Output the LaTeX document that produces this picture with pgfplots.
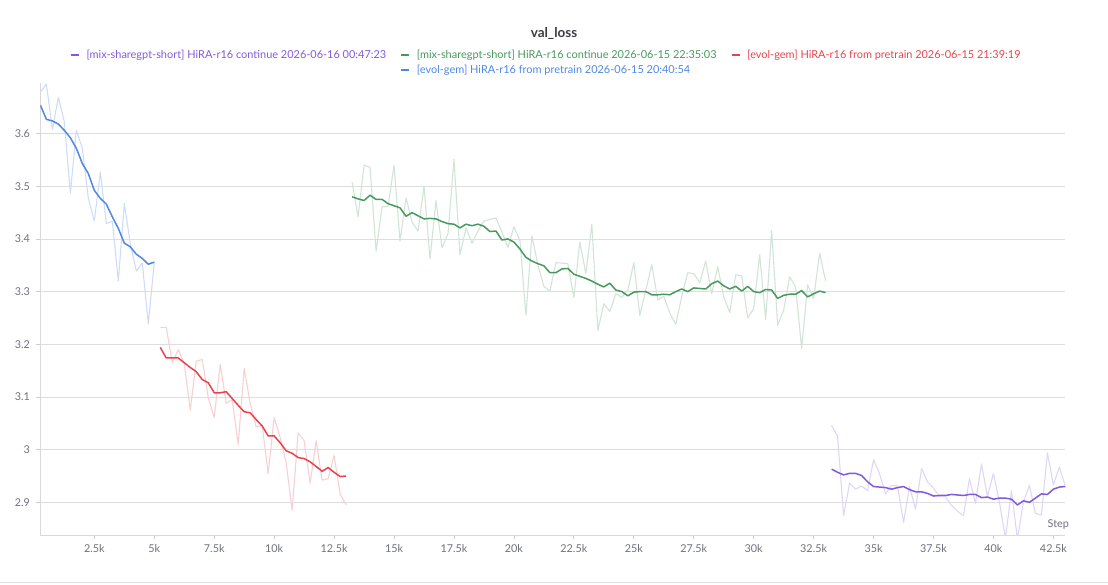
\documentclass[border=0pt]{standalone}
\usepackage{pgfplots}
\pgfplotsset{compat=1.18}
\usepackage{fontspec}
\setmainfont{Lato}
\definecolor{wbpurple}{RGB}{128,90,220}
\definecolor{wbgreen}{RGB}{71,153,94}
\definecolor{wbred}{RGB}{232,67,77}
\definecolor{wbblue}{RGB}{80,135,225}
\definecolor{tickgray}{RGB}{110,112,125}
\definecolor{titlegray}{RGB}{60,60,68}

\pgfplotstableread{
x y
250 3.679
500 3.694
750 3.608
1000 3.669
1250 3.622
1500 3.487
1750 3.606
2000 3.572
2250 3.477
2500 3.434
2750 3.527
3000 3.429
3250 3.434
3500 3.320
3750 3.467
4000 3.391
4250 3.339
4500 3.354
4750 3.239
5000 3.356
}\blueraw
\pgfplotstableread{
x y
250 3.654
500 3.627
750 3.624
1000 3.618
1250 3.606
1500 3.592
1750 3.572
2000 3.543
2250 3.524
2500 3.492
2750 3.477
3000 3.466
3250 3.442
3500 3.420
3750 3.392
4000 3.385
4250 3.371
4500 3.363
4750 3.352
5000 3.356
}\bluesm
\pgfplotstableread{
x y
5250 3.232
5500 3.232
5750 3.165
6000 3.190
6250 3.163
6500 3.075
6750 3.168
7000 3.171
7250 3.099
7500 3.061
7750 3.162
8000 3.088
8250 3.095
8500 3.010
8750 3.154
9000 3.088
9250 3.043
9500 3.046
9750 2.955
10000 3.061
10250 3.023
10500 2.975
10750 2.885
11000 3.032
11250 3.017
11500 2.936
11750 3.017
12000 2.942
12250 2.945
12500 2.989
12750 2.916
13000 2.895
}\redraw
\pgfplotstableread{
x y
5250 3.194
5500 3.174
5750 3.174
6000 3.174
6250 3.165
6500 3.156
6750 3.148
7000 3.133
7250 3.127
7500 3.108
7750 3.108
8000 3.110
8250 3.097
8500 3.084
8750 3.072
9000 3.070
9250 3.057
9500 3.045
9750 3.026
10000 3.026
10250 3.013
10500 2.998
10750 2.993
11000 2.985
11250 2.983
11500 2.977
11750 2.968
12000 2.959
12250 2.966
12500 2.957
12750 2.949
13000 2.950
}\redsm
\pgfplotstableread{
x y
13250 3.508
13500 3.442
13750 3.540
14000 3.536
14250 3.377
14500 3.461
14750 3.462
15000 3.540
15250 3.396
15500 3.478
15750 3.432
16000 3.415
16250 3.500
16500 3.362
16750 3.473
17000 3.383
17250 3.410
17500 3.551
17750 3.370
18000 3.421
18250 3.392
18500 3.415
18750 3.434
19000 3.437
19250 3.440
19500 3.413
19750 3.384
20000 3.423
20250 3.397
20500 3.255
20750 3.406
21000 3.350
21250 3.310
21500 3.301
21750 3.355
22000 3.354
22250 3.353
22500 3.289
22750 3.394
23000 3.334
23250 3.428
23500 3.226
23750 3.277
24000 3.262
24250 3.296
24500 3.289
24750 3.303
25000 3.355
25250 3.255
25500 3.303
25750 3.351
26000 3.284
26250 3.291
26500 3.259
26750 3.238
27000 3.291
27250 3.336
27500 3.334
27750 3.317
28000 3.358
28250 3.296
28500 3.347
28750 3.290
29000 3.260
29250 3.332
29500 3.330
29750 3.250
30000 3.268
30250 3.370
30500 3.247
30750 3.416
31000 3.236
31250 3.265
31500 3.328
31750 3.309
32000 3.192
32250 3.313
32500 3.287
32750 3.373
33000 3.320
}\greenraw
\pgfplotstableread{
x y
13250 3.480
13500 3.476
13750 3.473
14000 3.483
14250 3.475
14500 3.475
14750 3.467
15000 3.463
15250 3.459
15500 3.443
15750 3.450
16000 3.444
16250 3.438
16500 3.439
16750 3.438
17000 3.433
17250 3.429
17500 3.428
17750 3.421
18000 3.428
18250 3.425
18500 3.428
18750 3.424
19000 3.414
19250 3.415
19500 3.398
19750 3.400
20000 3.394
20250 3.381
20500 3.365
20750 3.358
21000 3.353
21250 3.349
21500 3.336
21750 3.336
22000 3.343
22250 3.344
22500 3.333
22750 3.329
23000 3.325
23250 3.320
23500 3.314
23750 3.309
24000 3.316
24250 3.303
24500 3.300
24750 3.292
25000 3.299
25250 3.300
25500 3.300
25750 3.294
26000 3.294
26250 3.295
26500 3.294
26750 3.300
27000 3.305
27250 3.300
27500 3.307
27750 3.306
28000 3.305
28250 3.315
28500 3.320
28750 3.311
29000 3.305
29250 3.310
29500 3.301
29750 3.310
30000 3.300
30250 3.298
30500 3.304
30750 3.303
31000 3.287
31250 3.293
31500 3.295
31750 3.295
32000 3.302
32250 3.290
32500 3.296
32750 3.301
33000 3.298
}\greensm
\pgfplotstableread{
x y
33250 3.046
33500 3.025
33750 2.875
34000 2.936
34250 2.925
34500 2.931
34750 2.922
35000 2.981
35250 2.954
35500 2.916
35750 2.932
36000 2.931
36250 2.862
36500 2.930
36750 2.887
37000 2.964
37250 2.939
37500 2.927
37750 2.911
38000 2.911
38250 2.894
38500 2.883
38750 2.875
39000 2.945
39250 2.898
39500 2.973
39750 2.911
40000 2.955
40250 2.900
40500 2.832
40750 2.922
41000 2.830
41250 2.901
41500 2.932
41750 2.879
42000 2.876
42250 2.994
42500 2.933
42750 2.967
43000 2.930
}\purpleraw
\pgfplotstableread{
x y
33250 2.963
33500 2.957
33750 2.952
34000 2.955
34250 2.955
34500 2.951
34750 2.939
35000 2.930
35250 2.929
35500 2.928
35750 2.925
36000 2.928
36250 2.930
36500 2.924
36750 2.920
37000 2.920
37250 2.917
37500 2.912
37750 2.913
38000 2.913
38250 2.915
38500 2.914
38750 2.913
39000 2.915
39250 2.915
39500 2.909
39750 2.910
40000 2.906
40250 2.908
40500 2.908
40750 2.906
41000 2.895
41250 2.903
41500 2.900
41750 2.908
42000 2.916
42250 2.915
42500 2.925
42750 2.929
43000 2.930
}\purplesm

\begin{document}
\begin{tikzpicture}[x=1pt,y=1pt]
\useasboundingbox (0,0) rectangle (1108,584);
\draw[black!12, line width=1pt] (0,1.3) -- (1108,1.3);
\node[font=\fontsize{13.5}{16}\selectfont\bfseries, text=titlegray] at (554,551) {val\_loss};
\begin{axis}[
  at={(40.4pt,49pt)}, anchor=south west,
  scale only axis, width=1025pt, height=452pt,
  xmin=250, xmax=43000, ymin=2.838, ymax=3.696,
  axis x line*=bottom, axis y line*=left,
  axis line style={draw=black!15, -},
  scaled x ticks=false, scaled y ticks=false,
  xtick={2500,5000,...,42500},
  xticklabels={2.5k,5k,7.5k,10k,12.5k,15k,17.5k,20k,22.5k,25k,27.5k,30k,32.5k,35k,37.5k,40k,42.5k},
  ytick={2.9,3.0,3.1,3.2,3.3,3.4,3.5,3.6},
  yticklabels={2.9,3,3.1,3.2,3.3,3.4,3.5,3.6},
  ymajorgrids, grid style={black!13, line width=0.8pt},
  tick style={black!20, line width=0.8pt}, major tick length=4pt, tick align=outside,
  ticklabel style={font=\fontsize{10.8}{12}\selectfont, text=tickgray},
  yticklabel style={xshift=-3pt},
  xticklabel style={yshift=-2pt},
  xlabel={Step},
  x label style={at={(axis description cs:1,0)}, anchor=base east, xshift=7pt, yshift=8pt, font=\fontsize{10.8}{12}\selectfont, text=tickgray},
  legend style={at={(axis description cs:0.4935,1.046)}, anchor=center, draw=none, fill=none,
    font=\fontsize{10.95}{13}\selectfont, inner sep=0pt, row sep=1pt,
    /tikz/every odd column/.append style={column sep=4.5pt},
    /tikz/every even column/.append style={column sep=12pt}},
  legend columns=3,
  legend cell align=left,
  legend image code/.code={\draw[line width=2.2pt] (0pt,0pt) -- (8pt,0pt);},
  every axis plot/.append style={line join=round},
]
\addplot[forget plot, wbblue!28, line width=1.1pt] table[x=x,y=y] {\blueraw};
\addplot[forget plot, wbred!25, line width=1.1pt] table[x=x,y=y] {\redraw};
\addplot[forget plot, wbgreen!25, line width=1.1pt] table[x=x,y=y] {\greenraw};
\addplot[forget plot, wbpurple!25, line width=1.1pt] table[x=x,y=y] {\purpleraw};
\addplot[wbpurple, line width=1.5pt] table[x=x,y=y] {\purplesm};
\addlegendentry{\textcolor{wbpurple}{[mix-sharegpt-short] HiRA-r16 continue 2026-06-16 00:47:23}}
\addplot[wbgreen, line width=1.5pt] table[x=x,y=y] {\greensm};
\addlegendentry{\textcolor{wbgreen}{[mix-sharegpt-short] HiRA-r16 continue 2026-06-15 22:35:03}}
\addplot[wbred, line width=1.5pt] table[x=x,y=y] {\redsm};
\addlegendentry{\textcolor{wbred}{[evol-gem] HiRA-r16 from pretrain 2026-06-15 21:39:19}}
\addlegendimage{empty legend}
\addlegendentry{}
\addplot[wbblue, line width=1.5pt] table[x=x,y=y] {\bluesm};
\addlegendentry{\textcolor{wbblue}{[evol-gem] HiRA-r16 from pretrain 2026-06-15 20:40:54}}
\end{axis}
\end{tikzpicture}
\end{document}
